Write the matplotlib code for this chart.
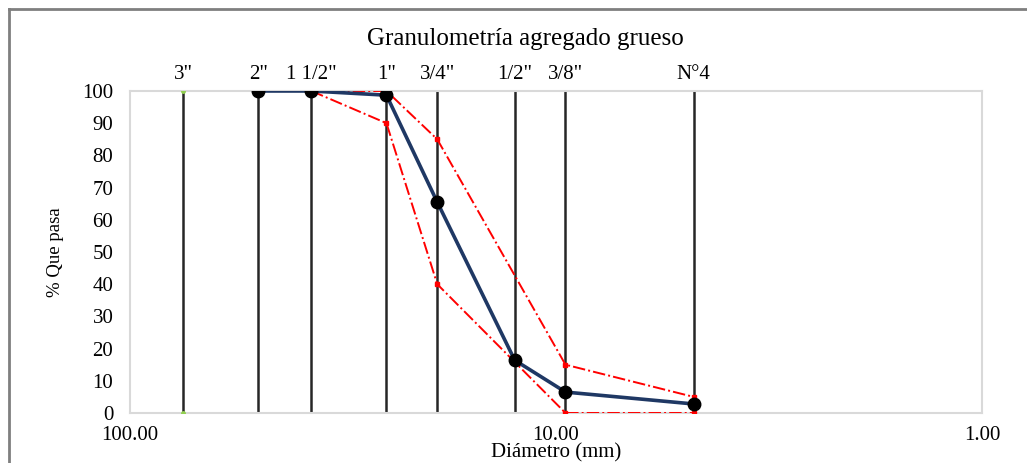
import matplotlib
matplotlib.use("Agg")
import matplotlib.pyplot as plt
from matplotlib.lines import Line2D
from matplotlib.ticker import FixedLocator, FuncFormatter
import matplotlib.transforms as mtransforms

plt.rcParams['font.family'] = ['Liberation Serif', 'DejaVu Serif']

# Sieve openings (mm) and labels
sieve_labels = ['3"', '2"', '1 1/2"', '1"', '3/4"', '1/2"', '3/8"', 'N°4']
sieve_mm = [75.0, 50.0, 37.5, 25.0, 19.0, 12.5, 9.5, 4.75]

# Sample gradation (% passing)
sample_mm = [50.0, 37.5, 25.0, 19.0, 12.5, 9.5, 4.75]
sample_pass = [100, 100, 98.7, 65.5, 16.4, 6.5, 2.8]

# Spec limits
upper_mm = [37.5, 25.0, 19.0, 9.5, 4.75]
upper_pass = [100, 100, 85, 15, 5]
lower_mm = [37.5, 25.0, 19.0, 9.5, 4.75]
lower_pass = [100, 90, 40, 0, 0]

fig = plt.figure(figsize=(10.27, 4.63), dpi=100)
ax = fig.add_axes([130 / 1027, 1 - 413 / 463, 852 / 1027, 322 / 463])

# vertical sieve lines
for mm in sieve_mm:
    ax.plot([mm, mm], [0, 100], color='#262626', lw=1.8, zorder=2)
ax.plot([sieve_mm[0], sieve_mm[0]], [0, 100], ls='none', marker='o', ms=2.5,
        color='#92d050', zorder=3)

ax.plot(upper_mm, upper_pass, color='#ff0000', ls='-.', lw=1.4,
        marker='s', ms=3, zorder=3)
ax.plot(lower_mm, lower_pass, color='#ff0000', ls='-.', lw=1.4,
        marker='s', ms=3, zorder=3)
ax.plot(sample_mm, sample_pass, color='#1f3864', lw=2.6,
        marker='o', ms=9, mfc='black', mec='black', zorder=4)

ax.set_xscale('log')
ax.set_xlim(100, 1)
ax.set_ylim(0, 100)
ax.xaxis.set_major_locator(FixedLocator([100, 10, 1]))
ax.xaxis.set_minor_locator(FixedLocator([]))
ax.xaxis.set_major_formatter(FuncFormatter(lambda v, p: f'{v:.2f}'))
ax.set_yticks(range(0, 101, 10))
ax.tick_params(axis='both', length=0, labelsize=15)
ax.tick_params(axis='x', pad=9)
ax.tick_params(axis='y', pad=12)
for s in ax.spines.values():
    s.set_color('#d9d9d9')
    s.set_linewidth(1.5)

trans = mtransforms.blended_transform_factory(ax.transData, ax.transAxes)
for lab, mm in zip(sieve_labels, sieve_mm):
    ax.text(mm, 1.05, lab, transform=trans, ha='center', va='center', fontsize=15)

ax.set_ylabel('% Que pasa', fontsize=13.5, labelpad=13)
ax.set_xlabel('Diámetro (mm)', fontsize=15, labelpad=-1)

fig.text(525 / 1027, 1 - 39 / 463, 'Granulometría agregado grueso',
         ha='center', va='center', fontsize=18)

# outer frame (cropped)
fig.add_artist(Line2D([9 / 1027, 1], [1 - 9 / 463, 1 - 9 / 463],
                      transform=fig.transFigure, color='#7f7f7f', lw=2))
fig.add_artist(Line2D([9 / 1027, 9 / 1027], [0, 1 - 9 / 463],
                      transform=fig.transFigure, color='#7f7f7f', lw=2))

fig.savefig('out.png', dpi=100)
